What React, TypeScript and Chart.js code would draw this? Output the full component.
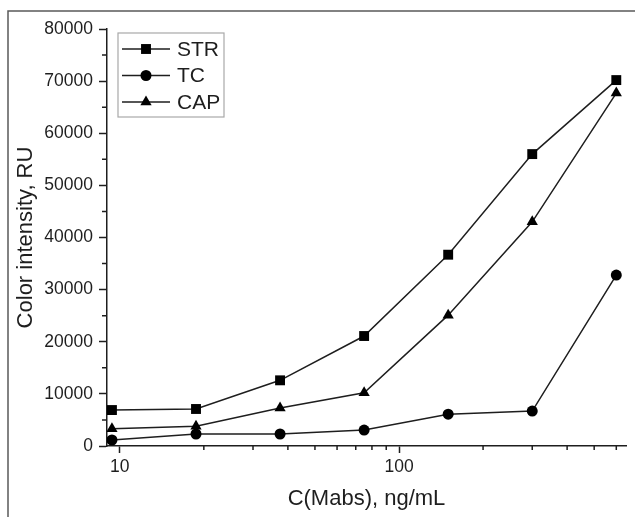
import React, { useEffect, useRef } from "react";
import { Chart, registerables } from "chart.js";

Chart.register(...registerables);

const concentrations = [9.375, 18.75, 37.5, 75, 150, 300, 600];
const strValues = [6900, 7100, 12600, 21100, 36700, 56000, 70200];
const tcValues = [1150, 2300, 2300, 3050, 6100, 6700, 32800];
const capValues = [3300, 3800, 7300, 10200, 25100, 43000, 67700];

const seriesLabels = ["STR", "TC", "CAP"];
const seriesMarkers = ["rect", "circle", "triangle"];
const markerRadius = [7, 5.5, 6.5];

const xTickValues = [10, 20, 30, 40, 50, 60, 70, 80, 90, 100, 200, 300, 400, 500, 600];
const xMajorTicks = [10, 100];
const yMajorStep = 10000;

const FONT = "'Liberation Sans', Arial, Helvetica, sans-serif";
const INK = "#1e1e1e";

const toPoints = (vals: number[]) => vals.map((v, i) => ({ x: concentrations[i], y: v }));

const framePlugin = {
  id: "frame",
  beforeDraw(chart: any) {
    const ctx = chart.ctx;
    ctx.save();
    ctx.strokeStyle = "#5a5a5a";
    ctx.lineWidth = 1.5;
    ctx.beginPath();
    ctx.moveTo(8, 517);
    ctx.lineTo(8, 11);
    ctx.lineTo(635, 11);
    ctx.stroke();
    ctx.restore();
  },
};

const minorTickPlugin = {
  id: "minorTicks",
  afterDraw(chart: any) {
    const ctx = chart.ctx;
    const xs = chart.scales.x;
    const ys = chart.scales.y;
    ctx.save();
    ctx.strokeStyle = INK;
    ctx.lineWidth = 1.5;
    ctx.beginPath();
    ys.ticks.forEach((t: any) => {
      if (t.value % yMajorStep !== 0) {
        const py = ys.getPixelForValue(t.value);
        ctx.moveTo(ys.right - 5, py);
        ctx.lineTo(ys.right, py);
      }
    });
    xs.ticks.forEach((t: any) => {
      if (!xMajorTicks.includes(t.value)) {
        const px = xs.getPixelForValue(t.value);
        ctx.moveTo(px, xs.top);
        ctx.lineTo(px, xs.top + 4);
      }
    });
    ctx.stroke();
    ctx.restore();
  },
};

function drawMarker(ctx: CanvasRenderingContext2D, style: string, x: number, y: number, r: number) {
  ctx.beginPath();
  if (style === "rect") {
    const s = Math.SQRT1_2 * r;
    ctx.rect(x - s, y - s, 2 * s, 2 * s);
  } else if (style === "circle") {
    ctx.arc(x, y, r, 0, Math.PI * 2);
  } else {
    ctx.moveTo(x, y - r);
    ctx.lineTo(x + r * Math.cos(Math.PI / 6), y + r / 2);
    ctx.lineTo(x - r * Math.cos(Math.PI / 6), y + r / 2);
    ctx.closePath();
  }
  ctx.fill();
}

const legendPlugin = {
  id: "innerLegend",
  afterDraw(chart: any) {
    const ctx = chart.ctx;
    const area = chart.chartArea;
    const left = area.left + 11;
    const top = area.top + 4;
    const w = 106;
    const h = 84;
    ctx.save();
    ctx.strokeStyle = "#a8a8a8";
    ctx.lineWidth = 1.2;
    ctx.strokeRect(left, top, w, h);
    chart.data.datasets.forEach((ds: any, i: number) => {
      const cy = top + 16 + i * 26.5;
      ctx.strokeStyle = INK;
      ctx.lineWidth = 1.5;
      ctx.beginPath();
      ctx.moveTo(left + 4, cy);
      ctx.lineTo(left + 52, cy);
      ctx.stroke();
      ctx.fillStyle = "#000";
      drawMarker(ctx, ds.pointStyle, left + 28, cy, ds.pointRadius);
      ctx.fillStyle = INK;
      ctx.font = `21px ${FONT}`;
      ctx.textBaseline = "middle";
      ctx.textAlign = "left";
      ctx.fillText(ds.label, left + 59, cy + 1);
    });
    ctx.restore();
  },
};

export default function App() {
  const ref = useRef<HTMLCanvasElement | null>(null);

  useEffect(() => {
    if (!ref.current) return;
    const allSeries = [strValues, tcValues, capValues];
    const chart = new Chart(ref.current, {
      type: "line",
      data: {
        datasets: allSeries.map((vals, i) => ({
          label: seriesLabels[i],
          data: toPoints(vals),
          borderColor: INK,
          borderWidth: 1.5,
          backgroundColor: "#000",
          pointBackgroundColor: "#000",
          pointBorderColor: "#000",
          pointBorderWidth: 0,
          pointStyle: seriesMarkers[i] as any,
          pointRadius: markerRadius[i],
          fill: false,
          tension: 0,
        })),
      },
      options: {
        responsive: false,
        animation: false,
        layout: { padding: { left: 0, top: 29, right: 9, bottom: 0 } },
        plugins: {
          legend: { display: false },
          tooltip: { enabled: false },
        },
        scales: {
          x: {
            type: "logarithmic",
            min: 9,
            max: 650,
            afterBuildTicks: (s: any) => {
              s.ticks = xTickValues.map((v) => ({ value: v }));
            },
            afterFit: (s: any) => {
              s.height = 71;
            },
            border: { display: true, color: INK, width: 1.5 },
            grid: {
              drawOnChartArea: false,
              drawTicks: true,
              tickLength: 7,
              tickWidth: 1.5,
              tickColor: (c: any) =>
                c.tick && xMajorTicks.includes(c.tick.value) ? INK : "rgba(0,0,0,0)",
            },
            ticks: {
              autoSkip: false,
              maxRotation: 0,
              padding: 4,
              color: INK,
              font: { family: FONT, size: 17.5 },
              callback: (v: any) => (xMajorTicks.includes(Number(v)) ? String(v) : ""),
            },
            title: {
              display: true,
              text: "C(Mabs), ng/mL",
              color: INK,
              font: { family: FONT, size: 22 },
              padding: { top: 0, bottom: 5 },
            },
          },
          y: {
            type: "linear",
            min: 0,
            max: 80000,
            afterFit: (s: any) => {
              s.width = 107;
            },
            border: { display: true, color: INK, width: 1.5 },
            grid: {
              drawOnChartArea: false,
              drawTicks: true,
              tickLength: 8,
              tickWidth: 1.5,
              tickColor: (c: any) =>
                c.tick && c.tick.value % yMajorStep === 0 ? INK : "rgba(0,0,0,0)",
            },
            ticks: {
              stepSize: 5000,
              autoSkip: false,
              padding: 6,
              color: INK,
              font: { family: FONT, size: 17.5 },
              callback: (v: any) => (Number(v) % yMajorStep === 0 ? String(v) : ""),
            },
            title: {
              display: true,
              text: "Color intensity, RU",
              color: INK,
              font: { family: FONT, size: 22 },
              padding: { top: 13, bottom: 0 },
            },
          },
        },
      },
      plugins: [framePlugin, minorTickPlugin, legendPlugin],
    });
    return () => chart.destroy();
  }, []);

  return (
    <div style={{ position: "fixed", left: 0, top: 0, width: 635, height: 517, background: "#fff" }}>
      <canvas ref={ref} width={635} height={517} style={{ display: "block" }} />
    </div>
  );
}
